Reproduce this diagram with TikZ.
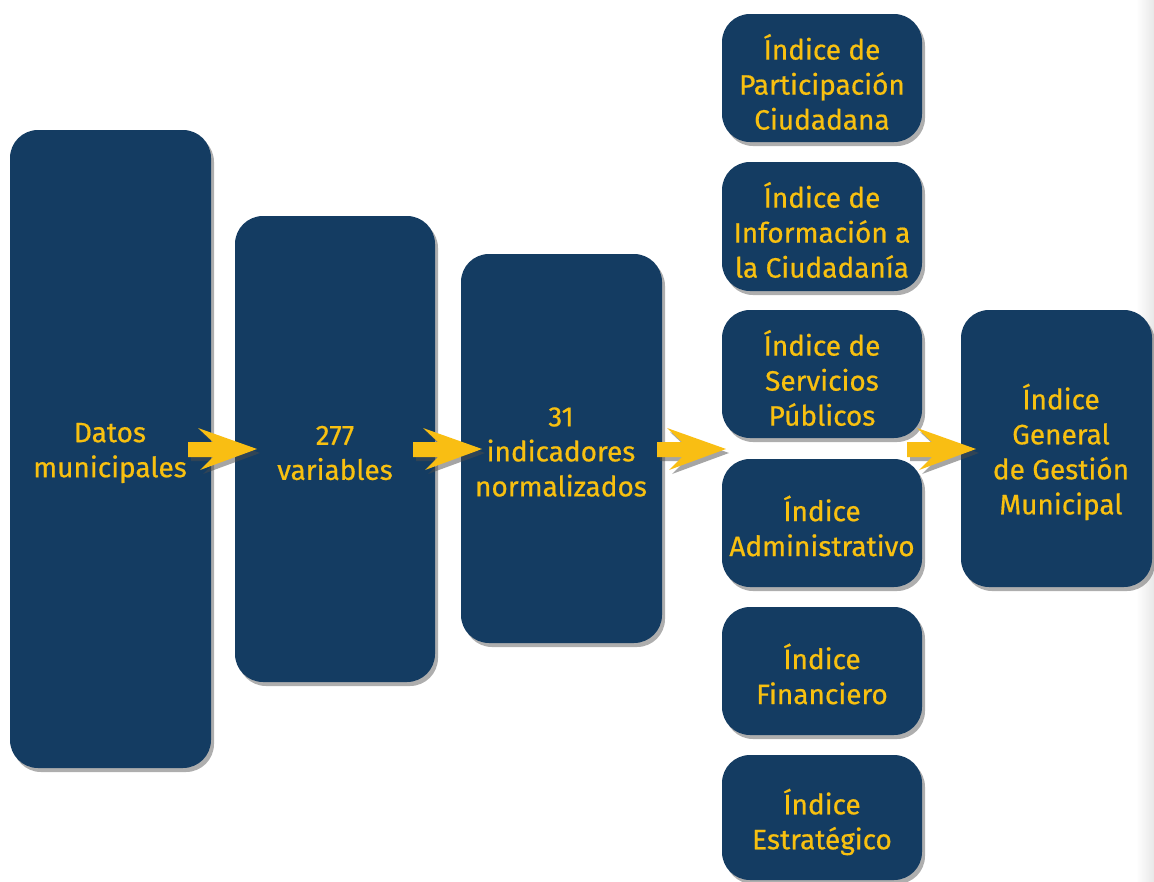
\documentclass[tikz,border=0pt]{standalone}
\usepackage{fontspec}
\setmainfont{Fira Sans}
\newfontfamily\lblfont{Fira Sans}[FakeBold=0.6]
\usetikzlibrary{shadows}
\definecolor{boxblue}{HTML}{143C62}
\definecolor{txtyel}{HTML}{F8C010}
\definecolor{arryel}{HTML}{F9BE13}
\tikzset{
  blk/.style={fill=boxblue, rounded corners=28pt, draw=none,
    drop shadow={shadow xshift=3pt, shadow yshift=-4pt, opacity=0.45, fill=black!70}},
  lbl/.style={text=txtyel, align=center, font=\lblfont\fontsize{28}{35}\selectfont},
  yarrow/.style={fill=arryel, draw=none,
    drop shadow={shadow xshift=3pt, shadow yshift=-4pt, opacity=0.5, fill=black!70}}
}
\newcommand{\yarr}[2]{% x of shaft start, name
  \path[yarrow] (#1,442) -- (#1+25,442) -- (#1+10,428) -- (#1+69,449) -- (#1+12,470) -- (#1+25,457) -- (#1,457) -- cycle;
}
\begin{document}
\begin{tikzpicture}[x=1pt,y=-1pt]
\useasboundingbox (0,0) rectangle (1154,881);
\fill[white] (0,0) rectangle (1154,881);
\shade[left color=white, right color=black!9] (1136,0) rectangle (1154,881);
% main boxes
\path[blk] (10,130) rectangle (211,768);
\path[blk] (235,216) rectangle (435,682);
\path[blk] (461,254) rectangle (662,643);
% right column
\path[blk] (722,14) rectangle (922,142);
\path[blk] (722,162) rectangle (922,291);
\path[blk] (722,310) rectangle (922,438);
\path[blk] (722,459) rectangle (922,587);
\path[blk] (722,607) rectangle (922,735);
\path[blk] (722,755) rectangle (922,880);
\path[blk] (961,310) rectangle (1152,587);
% labels
\node[lbl] (datos) at (110,453) {Datos\\municipales};
\node[lbl] (vars) at (335,453) {277\\variables};
\node[lbl] (ind) at (561,452) {31\\indicadores\\normalizados};
\node[lbl] (ipc) at (822,82) {Índice de\\Participación\\Ciudadana};
\node[lbl] (iic) at (822,230) {Índice de\\Información a\\la Ciudadanía};
\node[lbl] (isp) at (822,378) {Índice de\\Servicios\\Públicos};
\node[lbl] (iad) at (822,526) {Índice\\Administrativo};
\node[lbl] (ifi) at (822,674) {Índice\\Financiero};
\node[lbl] (ies) at (822,822) {Índice\\Estratégico};
\node[lbl] (igg) at (1061,452) {Índice\\General\\de Gestión\\Municipal};
% arrows
\yarr{188}{a1}
\yarr{413}{a2}
\yarr{657}{a3}
\yarr{907}{a4}
\end{tikzpicture}
\end{document}
